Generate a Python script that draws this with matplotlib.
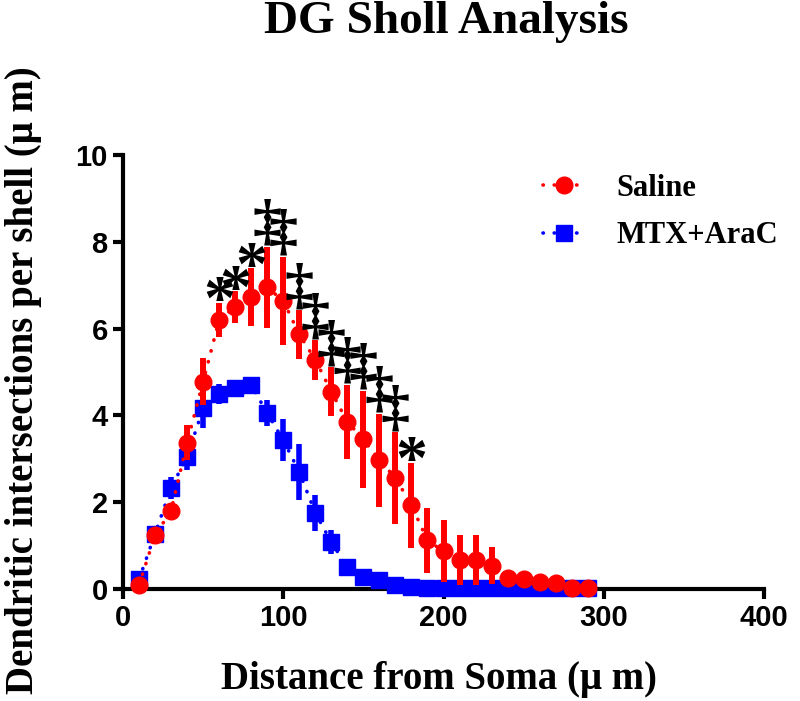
import numpy as np
import matplotlib
matplotlib.use("Agg")
import matplotlib.pyplot as plt
from matplotlib.lines import Line2D

# Sholl data (distance from soma in um)
distance = [10, 20, 30, 40, 50, 60, 70, 80, 90, 100, 110, 120, 130, 140, 150,
            160, 170, 180, 190, 200, 210, 220, 230, 240, 250, 260, 270, 280, 290]

saline_mean = [0.09, 1.24, 1.80, 3.37, 4.78, 6.20, 6.50, 6.73, 6.95, 6.64,
               5.87, 5.28, 4.55, 3.85, 3.45, 2.97, 2.56, 1.93, 1.12, 0.87,
               0.67, 0.67, 0.54, 0.25, 0.22, 0.17, 0.13, 0.02, 0.02]
saline_sem = [0.05, 0.12, 0.10, 0.40, 0.54, 0.40, 0.36, 0.66, 0.94, 1.02,
              0.56, 0.46, 0.56, 0.86, 1.12, 1.07, 1.06, 0.98, 0.75, 0.71,
              0.57, 0.57, 0.42, 0.12, 0.10, 0.08, 0.06, 0.03, 0.03]

mtx_mean = [0.22, 1.27, 2.33, 3.05, 4.16, 4.50, 4.62, 4.70, 4.05, 3.43,
            2.70, 1.75, 1.08, 0.50, 0.28, 0.20, 0.10, 0.05, 0.03, 0.02,
            0.02, 0.02, 0.02, 0.02, 0.02, 0.02, 0.02, 0.02, 0.02]
mtx_sem = [0.10, 0.15, 0.25, 0.30, 0.45, 0.23, 0.20, 0.15, 0.30, 0.48,
           0.65, 0.42, 0.27, 0.15, 0.10, 0.05, 0.05, 0.05, 0.05, 0.05,
           0.05, 0.05, 0.05, 0.05, 0.05, 0.05, 0.05, 0.05, 0.05]

# significance marks
star_x = [60, 70, 80, 180]
dagger_x = [90, 100, 110, 120, 130, 140, 150, 160, 170]

serif = "Liberation Serif"
sans = "Liberation Sans"
red = "#ff0000"
blue = "#0000ff"

fig = plt.figure(figsize=(8, 7.01), dpi=100)
ax = fig.add_axes([123 / 800, 1 - 589 / 701, (764 - 123) / 800, (589 - 155) / 701])

dots = (0, (0.1, 3.0))

ax.errorbar(distance, mtx_mean, yerr=mtx_sem, color=blue, marker="s",
            markersize=11.5, ls=dots, lw=2.6, elinewidth=4, capsize=0,
            dash_capstyle="round", zorder=3, clip_on=False)
ax.errorbar(distance, saline_mean, yerr=saline_sem, color=red, marker="o",
            markersize=12, ls=dots, lw=2.6, elinewidth=4.3, capsize=0,
            dash_capstyle="round", zorder=4, clip_on=False)

lookup = dict(zip(distance, zip(saline_mean, saline_sem)))
for x in star_x:
    m, s = lookup[x]
    ax.annotate("*", (x, m + s), xytext=(0, -22), textcoords="offset points",
                ha="center", va="bottom", fontsize=46, family=serif,
                fontweight="bold", zorder=5)
for x in dagger_x:
    m, s = lookup[x]
    ax.annotate("\u2021", (x, m + s), xytext=(0, -3), textcoords="offset points",
                ha="center", va="bottom", fontsize=42, family=serif,
                fontweight="bold", zorder=5)

ax.set_xlim(0, 400)
ax.set_ylim(0, 10)
ax.set_xticks([0, 100, 200, 300, 400])
ax.set_yticks([0, 2, 4, 6, 8, 10])
for side in ["top", "right"]:
    ax.spines[side].set_visible(False)
for side in ["left", "bottom"]:
    ax.spines[side].set_linewidth(3)
ax.tick_params(direction="out", length=7, width=3, pad=4)
for lab in ax.get_xticklabels() + ax.get_yticklabels():
    lab.set_family(sans)
    lab.set_fontweight("bold")
    lab.set_fontsize(21)

fig.text(446 / 800, 1 - 22 / 701, "DG Sholl Analysis", ha="center", va="center",
         family=serif, fontweight="bold", fontsize=34)
fig.text(439 / 800, 1 - 680 / 701, "Distance from Soma (\u03bc m)", ha="center",
         va="center", family=serif, fontweight="bold", fontsize=28)
fig.text(24 / 800, 1 - 380 / 701, "Dendritic intersections per shell (\u03bc m)",
         ha="center", va="center", rotation=90, family=serif,
         fontweight="bold", fontsize=28)

handles = [
    Line2D([], [], color=red, marker="o", markersize=12, ls=dots, lw=2.6,
           dash_capstyle="round"),
    Line2D([], [], color=blue, marker="s", markersize=11.5, ls=dots, lw=2.6,
           dash_capstyle="round"),
]
ax.legend(handles, ["Saline", "MTX+AraC"],
          loc="upper left", bbox_to_anchor=(543 / 800, 1 - 174 / 701),
          bbox_transform=fig.transFigure, frameon=False,
          prop={"family": serif, "weight": "bold", "size": 22},
          handlelength=1.4, handletextpad=1.0, labelspacing=0.6,
          borderpad=0, borderaxespad=0)

fig.savefig("out.png", dpi=100)
